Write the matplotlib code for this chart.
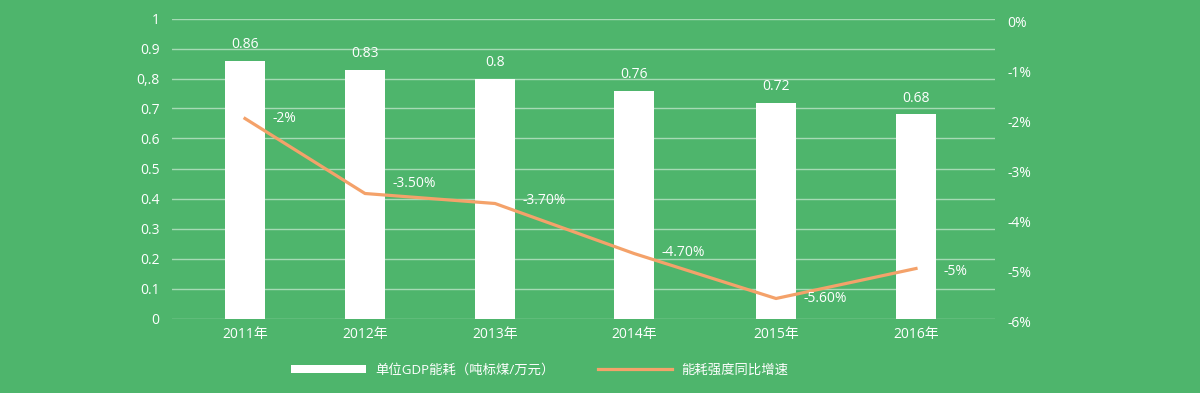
import numpy as np
import matplotlib.pyplot as plt
import matplotlib.transforms as mtransforms
from matplotlib.patches import Patch
from matplotlib.lines import Line2D

plt.rcParams['font.family'] = ['Open Sans', 'Noto Sans CJK SC', 'DejaVu Sans']

# data
years = ['2011年', '2012年', '2013年', '2014年', '2015年', '2016年']
gdp_energy = [0.86, 0.83, 0.8, 0.76, 0.72, 0.68]
growth = [-2, -3.5, -3.7, -4.7, -5.6, -5]
growth_labels = ['-2%', '-3.50%', '-3.70%', '-4.70%', '-5.60%', '-5%']
left_ticks = ['0', '0.1', '0.2', '0.3', '0.4', '0.5', '0.6', '0.7', '0,.8', '0.9', '1']
right_ticks = ['-6%', '-5%', '-4%', '-3%', '-2%', '-1%', '0%']

# layout (category centres are not evenly spaced in the original)
x_pos = [245, 365, 495, 634, 776, 916]
label_dy = [0, 7, 2, 1, 0, -2]
bg = '#4eb56c'
orange = '#f4a26a'

fig = plt.figure(figsize=(12, 3.93), dpi=100, facecolor=bg)
ax = fig.add_axes([172/1200, 1-318.5/393, (995-172)/1200, 300/393])
ax.set_facecolor(bg)

ax.bar(x_pos, gdp_energy, width=40, color='white', zorder=2)
for x, v in zip(x_pos, gdp_energy):
    ax.annotate(str(v), (x, v), xytext=(0, 6), textcoords='offset points',
                ha='center', va='bottom', color='white', fontsize=10)

ax.set_xlim(172, 995)
ax.set_ylim(0, 1)
ax.set_yticks(np.arange(0, 1.01, 0.1))
ax.set_yticklabels(left_ticks)
ax.set_xticks(x_pos)
ax.set_xticklabels(years)
ax.grid(axis='y', color='white', alpha=0.5, lw=1, zorder=0)
ax.tick_params(length=0, colors='white', labelsize=10)
ax.tick_params(axis='y', pad=9)
ax.tick_params(axis='x', pad=6)
for s in ax.spines.values():
    s.set_visible(False)

ax2 = ax.twinx()
ax2.plot(x_pos, growth, color=orange, lw=2.3, zorder=3)
for x, v, t, dy in zip(x_pos, growth, growth_labels, label_dy):
    ax2.annotate(t, (x, v), xytext=(20, dy), textcoords='offset points',
                 ha='left', va='center', color='white', fontsize=10)
ax2.set_ylim(-6, 0)
ax2.set_yticks(range(-6, 1))
ax2.set_yticklabels(right_ticks)
ax2.tick_params(length=0, colors='white', labelsize=10, pad=9)
shift = mtransforms.ScaledTranslation(0, -3/100, fig.dpi_scale_trans)
for lab in ax2.get_yticklabels():
    lab.set_transform(lab.get_transform() + shift)
for s in ax2.spines.values():
    s.set_visible(False)

# legend
handles = [Patch(facecolor='white', edgecolor='none'),
           Line2D([], [], color=orange, lw=2.3)]
names = ['单位GDP能耗（吨标煤/万元）', '能耗强度同比增速']
leg = fig.legend(handles, names, loc='center', bbox_to_anchor=(0.45, 1-370/393),
                 ncol=2, frameon=False, fontsize=9.6, handlelength=5.6,
                 handleheight=0.58, handletextpad=0.7, columnspacing=3.2)
for t in leg.get_texts():
    t.set_color('white')

fig.savefig('out.png', dpi=100, facecolor=bg)
